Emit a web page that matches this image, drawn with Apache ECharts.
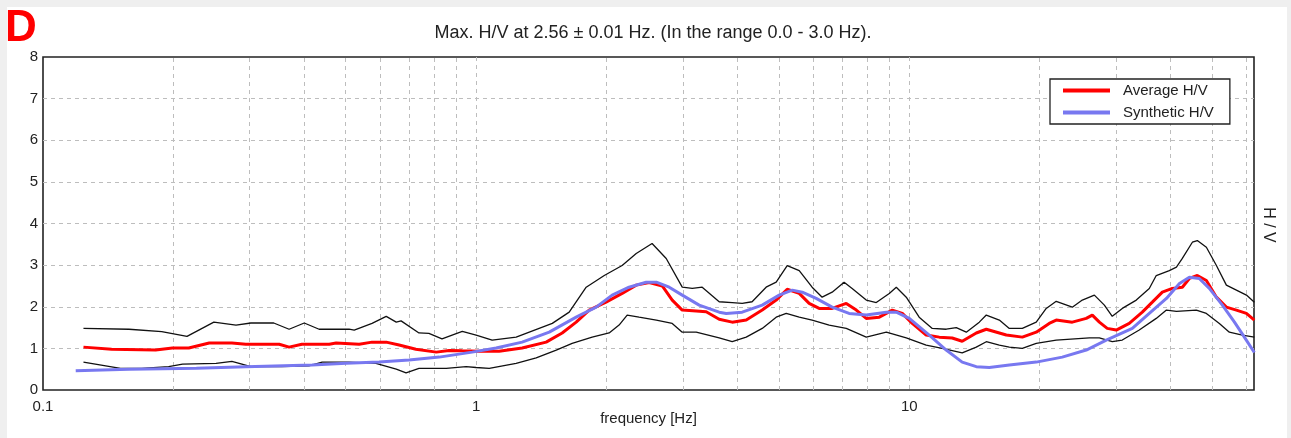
<!DOCTYPE html>
<html>
<head>
<meta charset="utf-8">
<script src="https://cdn.jsdelivr.net/npm/echarts@6/dist/echarts.min.js"></script>
<style>
html,body{margin:0;padding:0;background:#efefef;}
#chart{width:1291px;height:438px;}
</style>
</head>
<body>
<div id="chart"></div>
<script>
// ---- data ----
const titleText = 'Max. H/V at 2.56 \u00b1 0.01 Hz. (In the range 0.0 - 3.0 Hz).';
const xTickLabels = ['0.1', '1', '10'];
const xMinorGrid = [0.2,0.3,0.4,0.5,0.6,0.7,0.8,0.9,2,3,4,5,6,7,8,9,20,30,40,50,60];

const freqUpper = [0.124,0.158,0.188,0.215,0.248,0.279,0.302,0.341,0.370,0.401,0.434,0.509,0.523,0.575,0.620,0.654,0.671,0.738,0.778,0.834,0.929,1.0,1.089,1.237,1.499,1.640,1.795,1.976,2.173,2.342,2.548,2.747,2.991,3.155,3.326,3.640,3.901,4.114,4.336,4.672,4.929,5.226,5.571,5.966,6.293,6.637,7.072,7.381,7.955,8.390,8.991,9.333,9.841,10.54,11.30,12.17,12.84,13.54,14.51,15.06,16.14,17.02,18.24,19.64,20.71,21.84,23.79,25.09,26.75,28.21,29.42,31.03,33.43,35.82,37.17,39.84,41.38,42.70,45.04,46.24,48.52,51.18,53.96,56.91,60.03,62.62];
const upperHV = [1.48,1.46,1.40,1.29,1.63,1.56,1.61,1.61,1.46,1.61,1.46,1.46,1.44,1.60,1.77,1.63,1.66,1.37,1.36,1.23,1.41,1.32,1.20,1.27,1.60,1.87,2.47,2.75,2.99,3.28,3.52,3.16,2.47,2.44,2.47,2.12,2.10,2.08,2.12,2.47,2.59,2.99,2.87,2.47,2.23,2.35,2.59,2.44,2.16,2.10,2.32,2.47,2.23,1.75,1.48,1.46,1.50,1.39,1.63,1.80,1.68,1.48,1.48,1.63,1.96,2.13,1.99,2.16,2.28,2.04,1.77,1.96,2.16,2.44,2.75,2.87,2.95,3.16,3.55,3.59,3.43,2.99,2.52,2.40,2.28,2.11];

const freqLower = [0.124,0.151,0.169,0.195,0.210,0.251,0.273,0.302,0.356,0.411,0.441,0.509,0.587,0.654,0.689,0.738,0.853,0.948,1.0,1.072,1.237,1.376,1.531,1.666,1.853,2.028,2.138,2.232,2.378,2.606,2.836,2.991,3.222,3.640,3.901,4.203,4.576,4.929,5.199,5.571,5.966,6.532,7.154,7.955,8.851,9.841,10.94,11.91,13.25,14.28,15.06,16.14,17.02,18.24,19.64,21.84,26.05,27.47,29.42,31.03,33.96,37.17,39.24,41.38,46.00,48.52,51.99,54.82,58.75,62.62];
const lowerHV = [0.67,0.52,0.52,0.56,0.62,0.64,0.69,0.56,0.56,0.58,0.67,0.67,0.64,0.50,0.41,0.52,0.52,0.56,0.54,0.52,0.64,0.77,0.96,1.12,1.27,1.37,1.56,1.80,1.75,1.68,1.60,1.39,1.39,1.25,1.16,1.27,1.48,1.75,1.84,1.75,1.68,1.56,1.48,1.27,1.39,1.25,1.08,1.00,0.89,1.03,1.16,1.08,1.03,1.00,1.12,1.20,1.25,1.25,1.16,1.20,1.44,1.72,1.92,1.89,1.92,1.84,1.60,1.39,1.32,1.27];

const freqAvg = [0.124,0.144,0.182,0.199,0.217,0.242,0.273,0.294,0.351,0.370,0.396,0.458,0.475,0.537,0.575,0.620,0.664,0.726,0.809,0.866,0.929,1.016,1.130,1.277,1.451,1.580,1.702,1.824,1.995,2.173,2.342,2.510,2.690,2.836,2.991,3.222,3.397,3.640,3.901,4.203,4.576,4.929,5.226,5.571,5.873,6.194,6.637,7.154,7.546,7.955,8.527,9.134,9.636,10.16,10.94,11.73,12.56,13.25,14.28,15.06,16.14,16.75,18.24,19.64,21.04,21.84,23.79,25.62,26.46,27.47,28.64,30.05,32.20,34.51,36.40,38.39,40.49,42.70,44.33,46.24,48.52,51.18,53.96,56.91,60.03,62.62];
const averageHV = [1.03,0.98,0.96,1.01,1.01,1.13,1.13,1.10,1.10,1.03,1.10,1.10,1.13,1.10,1.15,1.15,1.08,0.98,0.91,0.95,0.94,0.93,0.93,1.01,1.15,1.37,1.63,1.92,2.11,2.32,2.52,2.58,2.50,2.16,1.92,1.90,1.88,1.70,1.63,1.68,1.92,2.16,2.42,2.32,2.08,1.96,1.96,2.08,1.92,1.72,1.75,1.92,1.84,1.60,1.32,1.27,1.25,1.17,1.37,1.46,1.37,1.32,1.27,1.39,1.60,1.68,1.63,1.72,1.80,1.63,1.48,1.44,1.60,1.87,2.11,2.35,2.44,2.47,2.68,2.75,2.63,2.23,1.99,1.92,1.84,1.68];

const freqSyn = [0.119,0.158,0.226,0.294,0.418,0.501,0.597,0.700,0.822,0.979,1.112,1.277,1.475,1.702,1.893,2.061,2.254,2.469,2.606,2.791,2.991,3.273,3.640,3.779,4.114,4.576,5.008,5.370,5.661,6.096,6.637,7.262,7.955,8.851,9.333,10.0,11.12,12.17,13.25,14.28,15.30,17.02,19.64,22.55,25.62,28.50,32.73,35.82,39.24,42.05,44.33,46.72,49.29,52.83,56.34,59.38,62.62];
const syntheticHV = [0.46,0.50,0.52,0.56,0.60,0.64,0.67,0.72,0.79,0.91,1.01,1.15,1.39,1.75,1.99,2.28,2.47,2.59,2.59,2.47,2.28,2.04,1.87,1.84,1.87,2.04,2.28,2.40,2.35,2.20,1.99,1.84,1.80,1.87,1.87,1.72,1.32,0.96,0.67,0.56,0.54,0.60,0.67,0.79,0.96,1.20,1.48,1.84,2.20,2.56,2.71,2.68,2.44,2.04,1.63,1.27,0.90];

function pairs(fs, vs) { return fs.map((f, i) => [f, vs[i]]); }

const chart = echarts.init(document.getElementById('chart'), null, {renderer: 'canvas'});
const gridDash = {color: '#bdbdbd', width: 1, type: [4, 4]};
const font = 'Liberation Sans, Arial, sans-serif';

chart.setOption({
  backgroundColor: '#efefef',
  animation: false,
  textStyle: {fontFamily: font},
  graphic: [
    {type: 'rect', z: -10, shape: {x: 7, y: 7, width: 1280, height: 431}, style: {fill: '#ffffff'}, silent: true},
    {type: 'text', left: 5, top: 7, style: {text: 'D', fill: '#ff0000', font: 'bold 44px ' + font}},
    {type: 'text', x: 1268, y: 225, rotation: -Math.PI / 2,
     style: {text: 'H / V', fill: '#222', font: '16px ' + font, align: 'center', verticalAlign: 'middle'}}
  ],
  title: {
    text: titleText, left: 648, top: 19, textAlign: 'center',
    textStyle: {fontSize: 18, fontWeight: 'normal', color: '#222', fontFamily: font}
  },
  legend: {
    data: ['Average H/V', 'Synthetic H/V'],
    orient: 'vertical', left: 1050, top: 79,
    padding: [4, 16, 4, 13], itemGap: 7,
    itemWidth: 47, itemHeight: 4, icon: 'rect',
    borderColor: '#222', borderWidth: 1.3, backgroundColor: '#fff',
    textStyle: {fontSize: 15, color: '#222', fontFamily: font, padding: [0, 0, 0, 8]}
  },
  grid: {left: 43, right: 37, top: 57, bottom: 48, show: true, borderColor: '#222', borderWidth: 1.6, backgroundColor: 'transparent'},
  xAxis: {
    type: 'log', logBase: 10, min: 0.1, max: 62.5,
    name: 'frequency [Hz]', nameLocation: 'middle', nameGap: 21, nameMoveOverlap: false,
    nameTextStyle: {fontSize: 15, color: '#222', fontFamily: font},
    axisLine: {show: false}, axisTick: {show: false},
    axisLabel: {
      fontSize: 15, color: '#222', margin: 9, showMaxLabel: false,
      formatter: function (v) {
        const s = String(+v.toPrecision(3));
        return xTickLabels.indexOf(s) >= 0 ? s : '';
      }
    },
    splitLine: {show: true, showMinLine: false, showMaxLine: false, lineStyle: gridDash}
  },
  yAxis: {
    type: 'value', min: 0, max: 8, interval: 1,
    axisLine: {show: false}, axisTick: {show: false},
    axisLabel: {fontSize: 15, color: '#222', margin: 5},
    splitLine: {show: true, showMinLine: false, showMaxLine: false, lineStyle: gridDash}
  },
  series: [
    {
      name: 'gridlines', type: 'line', data: [], silent: true, z: 1,
      markLine: {
        silent: true, symbol: 'none', label: {show: false}, animation: false, z: 1,
        lineStyle: gridDash, emphasis: {disabled: true},
        data: xMinorGrid.map(v => ({xAxis: v}))
      }
    },
    {name: 'Upper', type: 'line', data: pairs(freqUpper, upperHV), showSymbol: false, symbol: 'none', lineStyle: {color: '#111', width: 1.3}, itemStyle: {color: '#111'}, z: 3},
    {name: 'Lower', type: 'line', data: pairs(freqLower, lowerHV), showSymbol: false, symbol: 'none', lineStyle: {color: '#111', width: 1.3}, itemStyle: {color: '#111'}, z: 3},
    {name: 'Average H/V', type: 'line', data: pairs(freqAvg, averageHV), showSymbol: false, symbol: 'none', lineStyle: {color: '#ff0000', width: 3}, itemStyle: {color: '#ff0000'}, z: 4},
    {name: 'Synthetic H/V', type: 'line', data: pairs(freqSyn, syntheticHV), showSymbol: false, symbol: 'none', lineStyle: {color: '#7878f0', width: 3}, itemStyle: {color: '#7878f0'}, z: 5}
  ]
});
</script>
</body>
</html>
